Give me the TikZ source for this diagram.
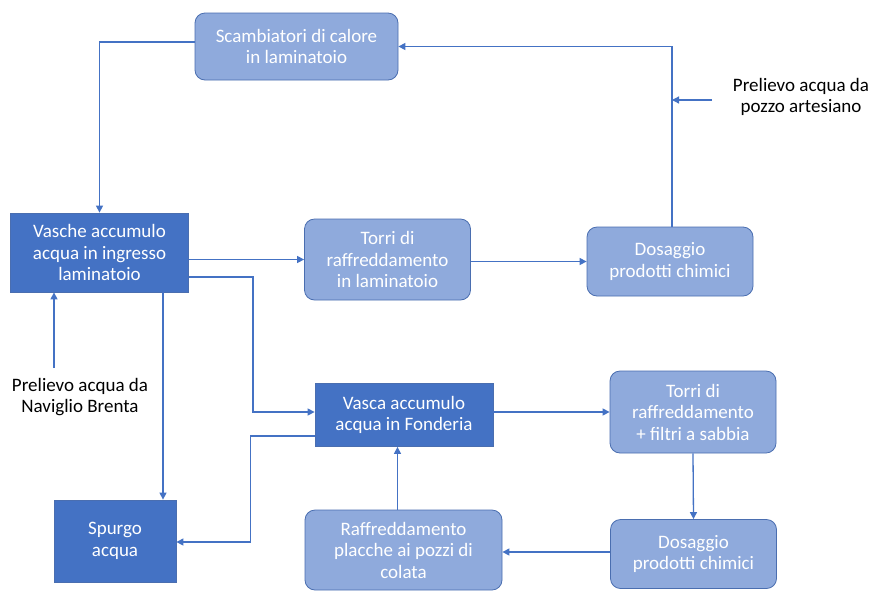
\documentclass[tikz,border=0pt]{standalone}
\usepackage{fontspec}
\setmainfont{Carlito}
\usetikzlibrary{arrows.meta}
\definecolor{darkfill}{HTML}{4472C4}
\definecolor{lightfill}{HTML}{8FAADC}
\definecolor{boxedge}{HTML}{4A6EB0}
\definecolor{flowcol}{HTML}{4472C4}
\tikzset{
  box/.style={rectangle, inner sep=0pt, align=center, text=white,
    font=\fontsize{19}{21.5}\selectfont, line width=0.8pt},
  darkbox/.style={box, fill=darkfill, draw=boxedge},
  lightbox/.style={box, rounded corners=10pt, fill=lightfill, draw=boxedge},
  lab/.style={align=center, text=black, font=\fontsize{19}{21.5}\selectfont, inner sep=0pt},
  flow/.style={draw=flowcol, line width=1.3pt, -{Triangle[width=7pt,length=7pt]}}
}
\begin{document}
\begin{tikzpicture}[x=1pt,y=-1pt]
\useasboundingbox (0,0) rectangle (870,590);
\fill[white] (0,0) rectangle (870,590);

\node[lightbox, minimum width=203pt, minimum height=67pt] (scamb) at (296.5,46.5) {Scambiatori di calore\\in laminatoio};
\node[darkbox, minimum width=178pt, minimum height=79pt] (vasche) at (99.5,252.5) {Vasche accumulo\\acqua in ingresso\\laminatoio};
\node[lightbox, minimum width=166pt, minimum height=81pt] (torriL) at (387.5,259.5) {Torri di\\raffreddamento\\in laminatoio};
\node[lightbox, minimum width=166pt, minimum height=69pt] (dosT) at (670,261.5) {Dosaggio\\prodotti chimici};
\node[darkbox, minimum width=178pt, minimum height=63pt] (vasca) at (404,415) {Vasca accumulo\\acqua in Fonderia};
\node[lightbox, minimum width=166pt, minimum height=82pt] (torriF) at (693,412) {Torri di\\raffreddamento\\+ filtri a sabbia};
\node[darkbox, minimum width=122pt, minimum height=82pt] (spurgo) at (115,541) {Spurgo\\acqua};
\node[lightbox, minimum width=197pt, minimum height=80pt] (raff) at (403.5,550) {Raffreddamento\\placche ai pozzi di\\colata};
\node[lightbox, minimum width=166pt, minimum height=69pt] (dosB) at (693.5,554) {Dosaggio\\prodotti chimici};

\node[lab] (pozzo) at (801,97) {Prelievo acqua da\\pozzo artesiano};
\node[lab] (navi) at (80,397) {Prelievo acqua da\\Naviglio Brenta};

\coordinate (pz) at (712,100);
\coordinate (pzj) at (672,100);
\coordinate (nv) at (54,368);

\draw[flow] ([yshift=4.5pt]scamb.west) -| (vasche.north);
\draw[flow] ([xshift=2pt]dosT.north) |- (scamb.east);
\draw[flow] (pz) -- (pzj);
\draw[flow] (vasche.east |- torriL.west) -- (torriL.west);
\draw[flow] (torriL.east |- dosT.west) -- (dosT.west);
\draw[flow] ([yshift=-24.5pt]vasche.east) -- ++(64,0) |- ([yshift=3pt]vasca.west);
\draw[flow] ([xshift=63.5pt]vasche.south) -- ([xshift=48pt]spurgo.north);
\draw[flow] (nv) -- (nv |- vasche.south);
\draw[flow] (vasca.east |- torriF.west) -- (torriF.west);
\draw[flow] (torriF.south) -- (dosB.north);
\draw[flow] ([yshift=2pt]dosB.west) -- ([yshift=2pt]raff.east |- dosB.west);
\draw[flow] ([xshift=-6pt]raff.north) -- ([xshift=-6pt]raff.north |- vasca.south);
\draw[flow] ([yshift=-21pt]vasca.west) -- ++(-64,0) |- ([yshift=-1pt]spurgo.east);
\end{tikzpicture}
\end{document}
